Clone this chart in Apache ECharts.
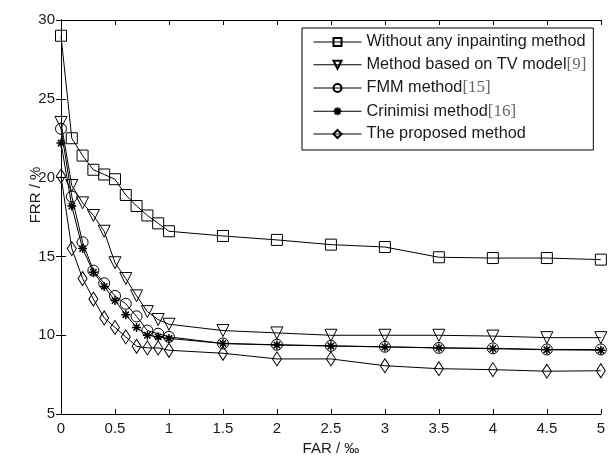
<!DOCTYPE html>
<html>
<head>
<meta charset="utf-8">
<script src="https://cdn.jsdelivr.net/npm/echarts@6/dist/echarts.min.js"></script>
<style>
  html, body { margin: 0; padding: 0; background: #fff; }
  #chart { width: 608px; height: 461px; }
</style>
</head>
<body>
<div id="chart"></div>
<script>
// FAR values (x axis, ‰)
const far = [0, 0.1, 0.2, 0.3, 0.4, 0.5, 0.6, 0.7, 0.8, 0.9, 1, 1.5, 2, 2.5, 3, 3.5, 4, 4.5, 5];

// FRR values (%)
const withoutInpainting = [29, 22.5, 21.4, 20.5, 20.2, 19.9, 18.9, 18.2, 17.6, 17.1, 16.6, 16.3, 16.05, 15.75, 15.6, 14.95, 14.9, 14.9, 14.8];
const tvModel = [23.5, 19.5, 18.4, 17.6, 16.6, 14.6, 13.6, 12.5, 11.5, 11.0, 10.7, 10.3, 10.15, 10.0, 10.0, 10.0, 9.95, 9.85, 9.85];
const fmm = [23.1, 18.8, 15.9, 14.1, 13.3, 12.5, 12.0, 11.2, 10.3, 10.1, 9.9, 9.48, 9.4, 9.33, 9.27, 9.2, 9.17, 9.1, 9.1];
const crinimisi = [22.2, 18.2, 15.5, 14.0, 13.1, 12.2, 11.3, 10.5, 10.0, 9.9, 9.8, 9.48, 9.38, 9.32, 9.26, 9.2, 9.15, 9.08, 9.05];
const proposed = [20.1, 15.5, 13.6, 12.3, 11.1, 10.5, 9.9, 9.3, 9.2, 9.2, 9.05, 8.86, 8.5, 8.5, 8.07, 7.88, 7.82, 7.72, 7.75];

const seriesNames = [
  'Without any inpainting method',
  'Method based on TV model[9]',
  'FMM method[15]',
  'Crinimisi method[16]',
  'The proposed method'
];

const FONT = 'Liberation Sans, Arial, sans-serif';

function pairs(ys) {
  return far.map((x, i) => [x, ys[i]]);
}

// marker shapes
const markers = [
  { symbol: 'rect', size: 11 },
  { symbol: 'path://M0,0L10,0L5,10Z', size: [12, 12] },
  { symbol: 'circle', size: 11 },
  { symbol: 'path://M5,0L5,10M0,5L10,5M1.5,1.5L8.5,8.5M8.5,1.5L1.5,8.5', size: 9, width: 1.5 },
  { symbol: 'diamond', size: [9, 14] }
];

const allData = [withoutInpainting, tvModel, fmm, crinimisi, proposed];

const chart = echarts.init(document.getElementById('chart'));

const option = {
  backgroundColor: '#fff',
  animation: false,
  grid: { left: 61, right: 7, top: 20, bottom: 40 },
  legend: {
    left: 302,
    top: 28,
    orient: 'vertical',
    backgroundColor: '#fff',
    borderColor: '#000',
    borderWidth: 1,
    borderRadius: 0,
    padding: [6, 7, 8, 11],
    itemWidth: 48,
    itemHeight: 10,
    itemGap: 6.25,
    lineStyle: { width: 1, color: '#000' },
    data: seriesNames,
    formatter: function (name) {
      const m = name.match(/^(.*)(\[\d+\])$/);
      return m ? m[1] + '{ref|' + m[2] + '}' : name;
    },
    textStyle: {
      fontFamily: FONT,
      fontSize: 16.3,
      lineHeight: 16,
      color: '#1a1a1a',
      rich: {
        ref: { fontFamily: 'Liberation Serif', fontSize: 17, lineHeight: 16, color: '#666' }
      }
    }
  },
  xAxis: [
    {
      type: 'value',
      min: 0,
      max: 5,
      interval: 0.5,
      name: 'FAR / ‰',
      nameLocation: 'middle',
      nameGap: 24,
      nameTextStyle: { fontFamily: FONT, fontSize: 15, color: '#1a1a1a' },
      axisLine: { show: true, lineStyle: { color: '#000', width: 1 } },
      axisTick: { inside: true, length: 5, lineStyle: { color: '#000' } },
      axisLabel: { fontFamily: FONT, fontSize: 15, color: '#1a1a1a', margin: 7 },
      splitLine: { show: false }
    },
    {
      type: 'value',
      position: 'top',
      min: 0,
      max: 5,
      interval: 0.5,
      axisLine: { show: true, lineStyle: { color: '#000', width: 1 } },
      axisTick: { inside: true, length: 5, lineStyle: { color: '#000' } },
      axisLabel: { show: false },
      splitLine: { show: false }
    }
  ],
  yAxis: [
    {
      type: 'value',
      min: 5,
      max: 30,
      interval: 5,
      axisLine: { show: true, lineStyle: { color: '#000', width: 1 } },
      axisTick: { inside: true, length: 5, lineStyle: { color: '#000' } },
      axisLabel: { fontFamily: FONT, fontSize: 15, color: '#1a1a1a', margin: 6 },
      splitLine: { show: false }
    },
    {
      type: 'value',
      position: 'right',
      min: 5,
      max: 30,
      interval: 5,
      axisLine: { show: true, lineStyle: { color: '#000', width: 1 } },
      axisTick: { inside: true, length: 5, lineStyle: { color: '#000' } },
      axisLabel: { show: false },
      splitLine: { show: false }
    }
  ],
  graphic: [
    {
      type: 'text',
      x: 36,
      y: 195,
      rotation: Math.PI / 2,
      style: {
        text: 'FRR / %',
        fontFamily: FONT,
        fontSize: 15,
        fill: '#1a1a1a',
        textAlign: 'center',
        textVerticalAlign: 'middle'
      }
    }
  ],
  series: seriesNames.map((name, i) => ({
    name: name,
    type: 'line',
    data: pairs(allData[i]),
    symbol: markers[i].symbol,
    symbolSize: markers[i].size,
    showAllSymbol: true,
    clip: false,
    lineStyle: { color: '#000', width: 1 },
    itemStyle: {
      color: 'transparent',
      borderColor: '#000',
      borderWidth: markers[i].width || 1
    },
    emphasis: { disabled: true }
  }))
};

chart.setOption(option);
</script>
</body>
</html>
